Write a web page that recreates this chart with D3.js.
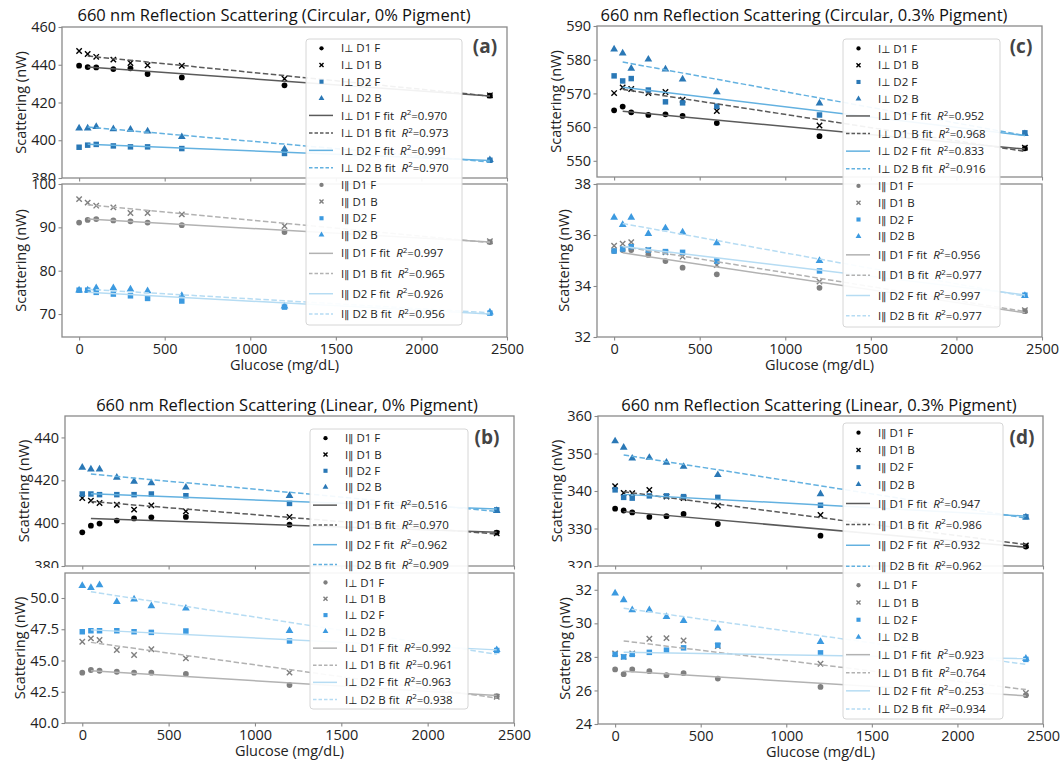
<!DOCTYPE html>
<html><head><meta charset="utf-8">
<script src="https://cdn.jsdelivr.net/npm/d3@7"></script>
<style>body{margin:0;background:#fff} svg{display:block} text{font-family:"Open Sans",sans-serif}</style>
</head><body><svg id="c" width="1063" height="765"></svg>
<script>
// ---------------- DATA ----------------
const glucose = [0, 50, 100, 200, 300, 400, 600, 1200, 2400];
const fitRange = [50, 2400];
const xTicks = [0, 500, 1000, 1500, 2000, 2500];
const seriesNames = ["D1 F", "D1 B", "D2 F", "D2 B"];

// (a) Circular, 0% pigment
const a_top_D1F = [439.5, 438.8, 438.6, 437.7, 438.1, 435.1, 433.3, 429.1, 423.6];
const a_top_D1B = [447.3, 445.7, 444.2, 442.7, 440.9, 439.7, 439.5, 432.6, 423.8];
const a_top_D2F = [396.3, 397.4, 397.8, 397.0, 396.5, 396.5, 395.6, 393.0, 389.4];
const a_top_D2B = [406.4, 406.4, 407.1, 406.0, 405.7, 404.8, 401.8, 395.3, 389.6];
const a_top_fitStart = [438.8, 444.6, 397.9, 407.0];
const a_top_fitEnd = [423.5, 423.4, 389.3, 388.5];
const a_top_r2 = ["0.970", "0.973", "0.991", "0.970"];
const a_bot_D1F = [91.1, 91.7, 91.9, 91.6, 91.4, 91.1, 90.5, 88.9, 86.6];
const a_bot_D1B = [96.5, 95.7, 95.0, 94.6, 93.3, 93.3, 93.0, 90.3, 86.8];
const a_bot_D2F = [75.5, 75.5, 75.0, 74.6, 74.2, 73.6, 73.0, 71.6, 70.2];
const a_bot_D2B = [75.5, 75.5, 76.0, 76.0, 75.7, 75.3, 74.2, 71.8, 70.4];
const a_bot_fitStart = [91.9, 95.2, 75.0, 75.7];
const a_bot_fitEnd = [86.6, 86.5, 70.0, 70.3];
const a_bot_r2 = ["0.997", "0.965", "0.926", "0.956"];

// (c) Circular, 0.3% pigment
const c_top_D1F = [565.0, 566.1, 564.4, 563.6, 563.8, 563.3, 561.2, 557.3, 553.7];
const c_top_D1B = [570.1, 571.8, 571.3, 570.1, 570.4, 568.1, 564.8, 560.5, 553.9];
const c_top_D2F = [575.2, 573.7, 574.4, 571.0, 567.5, 567.2, 566.2, 563.6, 558.3];
const c_top_D2B = [583.1, 581.9, 577.4, 580.1, 577.2, 574.2, 570.4, 567.1, 558.0];
const c_top_fitStart = [564.7, 571.2, 571.8, 579.3];
const c_top_fitEnd = [553.5, 552.8, 557.5, 557.5];
const c_top_r2 = ["0.952", "0.968", "0.833", "0.916"];
const c_bot_D1F = [35.37, 35.41, 35.41, 35.22, 34.98, 34.72, 34.46, 33.93, 33.01];
const c_bot_D1B = [35.58, 35.66, 35.72, 35.41, 35.32, 35.15, 34.82, 34.17, 33.05];
const c_bot_D2F = [35.37, 35.45, 35.54, 35.41, 35.35, 35.32, 34.98, 34.59, 33.64];
const c_bot_D2B = [36.69, 36.40, 36.69, 36.05, 36.27, 36.11, 35.69, 34.99, 33.62];
const c_bot_fitStart = [35.3, 35.55, 35.55, 36.45];
const c_bot_fitEnd = [32.95, 33.0, 33.65, 33.6];
const c_bot_r2 = ["0.956", "0.977", "0.997", "0.977"];

// (b) Linear, 0% pigment
const b_top_D1F = [395.7, 398.8, 399.8, 401.2, 402.2, 402.7, 402.9, 399.3, 395.6];
const b_top_D1B = [411.7, 410.5, 409.4, 408.6, 406.3, 408.3, 405.5, 402.9, 395.2];
const b_top_D2F = [413.6, 413.6, 413.3, 413.3, 413.3, 413.6, 412.8, 409.2, 406.2];
const b_top_D2B = [426.0, 425.2, 425.2, 421.3, 419.4, 418.7, 416.7, 412.8, 405.8];
const b_top_fitStart = [402.2, 410.1, 413.7, 422.9];
const b_top_fitEnd = [395.8, 394.9, 406.6, 405.5];
const b_top_r2 = ["0.516", "0.970", "0.962", "0.909"];
const b_bot_D1F = [44.03, 44.24, 44.18, 44.10, 44.03, 44.03, 43.92, 43.04, 42.15];
const b_bot_D1B = [46.50, 46.77, 46.64, 45.84, 45.44, 45.90, 45.17, 44.03, 42.10];
const b_bot_D2F = [47.30, 47.38, 47.38, 47.38, 47.30, 47.25, 47.36, 46.56, 45.80];
const b_bot_D2B = [50.98, 50.82, 51.04, 49.70, 49.90, 49.36, 49.17, 47.38, 45.85];
const b_bot_fitStart = [44.18, 46.45, 47.45, 50.5];
const b_bot_fitEnd = [42.2, 42.0, 45.85, 45.5];
const b_bot_r2 = ["0.992", "0.961", "0.963", "0.938"];

// (d) Linear, 0.3% pigment
const d_top_D1F = [335.3, 334.8, 334.3, 333.1, 333.3, 333.9, 331.2, 328.1, 325.2];
const d_top_D1B = [341.3, 339.5, 339.4, 340.3, 338.5, 338.1, 336.1, 333.6, 325.5];
const d_top_D2F = [340.3, 338.3, 338.1, 338.7, 338.7, 338.5, 338.3, 336.2, 333.1];
const d_top_D2B = [353.3, 351.6, 348.7, 348.9, 347.6, 346.5, 344.3, 339.2, 333.0];
const d_top_fitStart = [334.5, 339.8, 339.1, 349.6];
const d_top_fitEnd = [325.0, 325.7, 333.3, 332.8];
const d_top_r2 = ["0.947", "0.986", "0.932", "0.962"];
const d_bot_D1F = [27.25, 26.97, 27.25, 27.15, 26.91, 27.03, 26.71, 26.21, 25.72];
const d_bot_D1B = [28.20, 28.00, 28.20, 29.08, 29.12, 28.98, 28.65, 27.59, 25.85];
const d_bot_D2F = [28.15, 28.00, 28.15, 28.27, 28.40, 28.54, 28.70, 28.24, 27.85];
const d_bot_D2B = [31.79, 31.39, 30.79, 30.79, 30.39, 30.15, 29.70, 28.90, 27.90];
const d_bot_fitStart = [27.15, 28.95, 28.27, 30.9];
const d_bot_fitEnd = [25.68, 26.05, 27.9, 27.55];
const d_bot_r2 = ["0.923", "0.764", "0.253", "0.934"];

const PERP = "\u22A5", PAR = "\u2225";

// ---------------- LAYOUT ----------------
const panels = [
  { title: "660 nm Reflection Scattering (Circular, 0% Pigment)", tx: 274, ty: 21, label: "(a)", lx: 485, ly: 53,
    left: 62, right: 507, legend: { x: 306, y: 39, w: 156, h: 286 },
    subs: [
      { top: 27, bottom: 178, domain: [380, 460], ticks: [380, 400, 420, 440, 460], fmt: "d", pol: PERP, set: 0,
        data: [a_top_D1F, a_top_D1B, a_top_D2F, a_top_D2B], fs: a_top_fitStart, fe: a_top_fitEnd, r2: a_top_r2 },
      { top: 184, bottom: 337, domain: [64.7, 100], ticks: [70, 80, 90, 100], fmt: "d", pol: PAR, set: 1,
        data: [a_bot_D1F, a_bot_D1B, a_bot_D2F, a_bot_D2B], fs: a_bot_fitStart, fe: a_bot_fitEnd, r2: a_bot_r2 } ] },
  { title: "660 nm Reflection Scattering (Circular, 0.3% Pigment)", tx: 804, ty: 21, label: "(c)", lx: 1021, ly: 53,
    left: 597, right: 1042, legend: { x: 843, y: 39, w: 157, h: 288 },
    subs: [
      { top: 26, bottom: 177, domain: [545.2, 590], ticks: [550, 560, 570, 580, 590], fmt: "d", pol: PERP, set: 0,
        data: [c_top_D1F, c_top_D1B, c_top_D2F, c_top_D2B], fs: c_top_fitStart, fe: c_top_fitEnd, r2: c_top_r2 },
      { top: 184, bottom: 337, domain: [32, 38], ticks: [32, 34, 36, 38], fmt: "d", pol: PAR, set: 1,
        data: [c_bot_D1F, c_bot_D1B, c_bot_D2F, c_bot_D2B], fs: c_bot_fitStart, fe: c_bot_fitEnd, r2: c_bot_r2 } ] },
  { title: "660 nm Reflection Scattering (Linear, 0% Pigment)", tx: 287, ty: 411, label: "(b)", lx: 487, ly: 444,
    left: 65, right: 514, legend: { x: 310, y: 429, w: 158, h: 280 },
    subs: [
      { top: 416, bottom: 566, domain: [380, 450], ticks: [380, 400, 420, 440], fmt: "d", pol: PAR, set: 0,
        data: [b_top_D1F, b_top_D1B, b_top_D2F, b_top_D2B], fs: b_top_fitStart, fe: b_top_fitEnd, r2: b_top_r2 },
      { top: 573, bottom: 723, domain: [40, 52], ticks: [40, 42.5, 45, 47.5, 50], fmt: ".1f", pol: PERP, set: 1,
        data: [b_bot_D1F, b_bot_D1B, b_bot_D2F, b_bot_D2B], fs: b_bot_fitStart, fe: b_bot_fitEnd, r2: b_bot_r2 } ] },
  { title: "660 nm Reflection Scattering (Linear, 0.3% Pigment)", tx: 819, ty: 411, label: "(d)", lx: 1022, ly: 444,
    left: 598, right: 1043, legend: { x: 843, y: 423, w: 160, h: 296 },
    subs: [
      { top: 416, bottom: 566, domain: [320, 360], ticks: [320, 330, 340, 350, 360], fmt: "d", pol: PAR, set: 0,
        data: [d_top_D1F, d_top_D1B, d_top_D2F, d_top_D2B], fs: d_top_fitStart, fe: d_top_fitEnd, r2: d_top_r2 },
      { top: 573, bottom: 724, domain: [24, 33], ticks: [24, 26, 28, 30, 32], fmt: "d", pol: PERP, set: 1,
        data: [d_bot_D1F, d_bot_D1B, d_bot_D2F, d_bot_D2B], fs: d_bot_fitStart, fe: d_bot_fitEnd, r2: d_bot_r2 } ] }
];

const palette = [
  { m: ["#000000", "#000000", "#2a78b6", "#2a78b6"], f: ["#5a5a5a", "#5a5a5a", "#63b1e0", "#63b1e0"] },
  { m: ["#7f7f7f", "#7f7f7f", "#3c9ae0", "#3c9ae0"], f: ["#b2b2b2", "#b2b2b2", "#b6dcf3", "#b6dcf3"] }
];
const dashedFit = [false, true, false, true];
const shapes = ["circle", "cross", "square", "triangle"];
const SPINE = "#8a8a8a", TXT = "#222";

const svg = d3.select("#c");

function marker(g, shape, x, y, color, k) {
  if (shape === "cross") {
    const s = 2.7 * k;
    g.append("path").attr("d", `M${x - s},${y - s}L${x + s},${y + s}M${x - s},${y + s}L${x + s},${y - s}`)
      .attr("stroke", color).attr("stroke-width", 1.4).attr("fill", "none");
  } else {
    const type = { circle: d3.symbolCircle, square: d3.symbolSquare, triangle: d3.symbolTriangle }[shape];
    const size = { circle: 26, square: 30, triangle: 26 }[shape] * k * k;
    g.append("path").attr("d", d3.symbol().type(type).size(size)())
      .attr("transform", `translate(${x},${y})`).attr("fill", color);
  }
}

function polText(t, pol) {
  t.append("tspan").text("I");
  t.append("tspan").attr("font-family", '"DejaVu Sans",sans-serif').attr("font-size", 10.5).text(pol);
}

panels.forEach((p, pi) => {
  const x = d3.scaleLinear().domain([-100, 2500]).range([p.left, p.right]);
  const pg = svg.append("g");

  p.subs.forEach((s, si) => {
    const y = d3.scaleLinear().domain(s.domain).range([s.bottom, s.top]);
    const g = pg.append("g");
    const clipId = "clip" + pi + "_" + si;
    g.append("clipPath").attr("id", clipId).append("rect")
      .attr("x", p.left).attr("y", s.top).attr("width", p.right - p.left).attr("height", s.bottom - s.top);
    const lblClip = "lclip" + pi + "_" + si;
    g.append("clipPath").attr("id", lblClip).append("rect")
      .attr("x", -2000).attr("y", -2000).attr("width", 4000).attr("height", 2000 + s.bottom + 2);
    g.append("rect").attr("x", p.left).attr("y", s.top).attr("width", p.right - p.left)
      .attr("height", s.bottom - s.top).attr("fill", "#fff");

    // y axis
    const ya = g.append("g").attr("transform", `translate(${p.left},0)`)
      .call(d3.axisLeft(y).tickValues(s.ticks).tickFormat(d3.format(s.fmt)).tickSize(3.5).tickPadding(2.5).tickSizeOuter(0));
    ya.select(".domain").remove();
    ya.attr("font-family", null).attr("font-size", null);
    ya.selectAll("line").attr("stroke", SPINE).attr("stroke-width", 1.1);
    ya.selectAll("text").attr("font-size", 14.5).attr("fill", TXT);
    if (si === 0) ya.attr("clip-path", `url(#${lblClip})`);

    // x axis
    const xa = g.append("g").attr("transform", `translate(0,${s.bottom})`)
      .call(d3.axisBottom(x).tickValues(xTicks).tickFormat(d3.format("d")).tickSize(3.5).tickPadding(3.2).tickSizeOuter(0));
    xa.select(".domain").remove();
    xa.selectAll("line").attr("stroke", SPINE).attr("stroke-width", 1.1);
    xa.attr("font-family", null).attr("font-size", null);
    if (si === 0) xa.selectAll("text").remove();
    else xa.selectAll("text").attr("font-size", 14.5).attr("fill", TXT);

    // y label
    let minX = Infinity;
    ya.selectAll("text").each(function () { const b = this.getBBox(); minX = Math.min(minX, p.left + b.x); });
    g.append("text").attr("transform", `translate(${minX - 5},${(s.top + s.bottom) / 2}) rotate(-90)`)
      .attr("text-anchor", "middle").attr("font-size", 14.5).attr("fill", TXT).text("Scattering (nW)");

    // points
    const pts = g.append("g").attr("clip-path", `url(#${clipId})`);
    const pal = palette[s.set];
    s.data.forEach((arr, k) => {
      arr.forEach((v, i) => marker(pts, shapes[k], x(glucose[i]), y(v), pal.m[k], 1));
    });
    // fits
    s.data.forEach((arr, k) => {
      pts.append("line").attr("x1", x(fitRange[0])).attr("x2", x(fitRange[1]))
        .attr("y1", y(s.fs[k])).attr("y2", y(s.fe[k]))
        .attr("stroke", pal.f[k]).attr("stroke-width", 1.5)
        .attr("stroke-dasharray", dashedFit[k] ? "5.5,2.5" : null);
    });

    // spines
    g.append("rect").attr("x", p.left).attr("y", s.top).attr("width", p.right - p.left)
      .attr("height", s.bottom - s.top).attr("fill", "none").attr("stroke", SPINE).attr("stroke-width", 1.3);

    if (si === 1) {
      g.append("text").attr("x", (p.left + p.right) / 2).attr("y", s.bottom + 33)
        .attr("text-anchor", "middle").attr("font-size", 14.5).attr("fill", TXT).text("Glucose (mg/dL)");
    }
  });

  // title & panel label
  pg.append("text").attr("x", p.tx).attr("y", p.ty).attr("text-anchor", "middle")
    .attr("font-size", 16.5).attr("fill", "#111").text(p.title);
  pg.append("text").attr("x", p.lx).attr("y", p.ly).attr("text-anchor", "middle")
    .attr("font-size", 19).attr("font-weight", "bold").attr("fill", "#444").text(p.label);

  // legend
  const L = p.legend;
  const lg = pg.append("g");
  lg.append("rect").attr("x", L.x).attr("y", L.y).attr("width", L.w).attr("height", L.h)
    .attr("rx", 3).attr("fill", "#fff").attr("fill-opacity", 0.92).attr("stroke", "#d6d6d6").attr("stroke-width", 1);
  const rows = [];
  p.subs.forEach(s => {
    for (let k = 0; k < 4; k++) rows.push({ h: 16.6, type: "m", s, k });
    for (let k = 0; k < 4; k++) rows.push({ h: s.pol === PAR ? 20.1 : 17.4, type: "f", s, k });
  });
  const total = 2 + d3.sum(rows, r => r.h);
  const sc = L.h / total;
  let cy = L.y + 1 * sc;
  rows.forEach(r => {
    const yc = cy + r.h * sc / 2;
    cy += r.h * sc;
    const pal = palette[r.s.set];
    const name = seriesNames[r.k];
    const t = lg.append("text").attr("x", L.x + 35).attr("y", yc).attr("dy", "0.36em")
      .attr("font-size", 11.5).attr("fill", TXT);
    polText(t, r.s.pol);
    if (r.type === "m") {
      marker(lg, shapes[r.k], L.x + 15.5, yc, pal.m[r.k], 0.75);
      t.append("tspan").text(` ${name}`);
    } else {
      lg.append("line").attr("x1", L.x + 3).attr("x2", L.x + 27).attr("y1", yc).attr("y2", yc)
        .attr("stroke", pal.f[r.k]).attr("stroke-width", 1.5)
        .attr("stroke-dasharray", dashedFit[r.k] ? "3.5,2" : null);
      t.append("tspan").text(` ${name} fit`);
      t.append("tspan").attr("dx", 6).attr("font-style", "italic").text("R");
      t.append("tspan").attr("dy", -4.5).attr("font-size", 8).text("2");
      t.append("tspan").attr("dy", 4.5).text("=" + r.s.r2[r.k]);
    }
  });
});
</script></body></html>
